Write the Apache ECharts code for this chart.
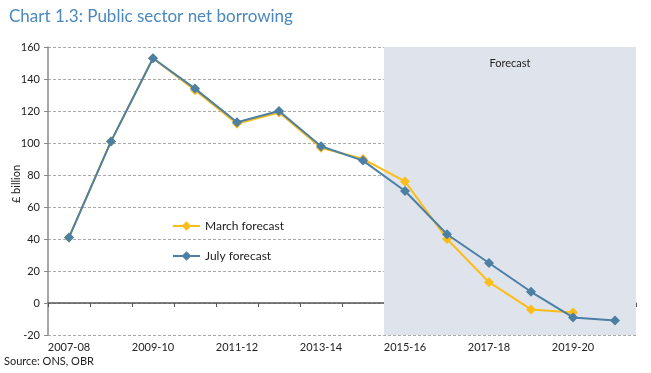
<!DOCTYPE html>
<html>
<head>
<meta charset="utf-8">
<script src="https://cdn.jsdelivr.net/npm/echarts@6/dist/echarts.min.js"></script>
<style>
html,body{margin:0;padding:0;background:#fff;}
#chart{width:651px;height:373px;}
</style>
</head>
<body>
<div id="chart"></div>
<script>
const categories = ['2007-08','2008-09','2009-10','2010-11','2011-12','2012-13','2013-14','2014-15','2015-16','2016-17','2017-18','2018-19','2019-20','2020-21'];
const marchForecast = [41, 101, 153, 133, 112, 119, 97, 90, 76, 40, 13, -4, -6, null];
const julyForecast = [41, 101, 153, 134, 113, 120, 98, 89, 70, 43, 25, 7, -9, -11];
const forecastStart = '2015-16';
const yTicks = { min: -20, max: 160, interval: 20 };

const FONT = 'Lato, "DejaVu Sans", sans-serif';
const chart = echarts.init(document.getElementById('chart'));
const startIdx = categories.indexOf(forecastStart);

chart.setOption({
  animation: false,
  textStyle: { fontFamily: FONT },
  title: {
    text: 'Chart 1.3: Public sector net borrowing',
    left: 4, top: 3,
    textStyle: { fontFamily: FONT, fontSize: 17, fontWeight: 'normal', color: '#4a88bd' }
  },
  graphic: [
    {
      type: 'text', left: 4, top: 356,
      style: { text: 'Source: ONS, OBR', font: '11px ' + FONT, fill: '#222' }
    },
    {
      type: 'text', x: 16, y: 184, rotation: Math.PI / 2,
      style: { text: '£ billion', font: '11px ' + FONT, fill: '#222', align: 'center', verticalAlign: 'middle' }
    }
  ],
  grid: { left: 48, right: 15, top: 47, bottom: 38, containLabel: false, outerBoundsMode: 'none' },
  legend: {
    orient: 'vertical', left: 167, top: 215, itemGap: 18,
    itemWidth: 27, itemHeight: 12,
    textStyle: { fontFamily: FONT, fontSize: 12, color: '#222' },
    data: ['March forecast', 'July forecast']
  },
  xAxis: [
    {
      type: 'category', data: categories, boundaryGap: true,
      axisLine: { onZero: true, lineStyle: { color: '#555', width: 1.5 } },
      axisTick: { show: true, alignWithLabel: false, interval: 0, length: 4, lineStyle: { color: '#555' } },
      axisLabel: { show: false }
    },
    {
      type: 'category', data: categories, boundaryGap: true, position: 'bottom',
      axisLine: { show: false, onZero: false }, axisTick: { show: false },
      axisLabel: { interval: 1, fontFamily: FONT, fontSize: 11, color: '#222', margin: 7 }
    },
    {
      type: 'value', min: 0, max: categories.length, show: false
    }
  ],
  yAxis: {
    type: 'value', min: yTicks.min, max: yTicks.max, interval: yTicks.interval,
    axisLine: { show: true, lineStyle: { color: '#888', width: 1.5 } },
    axisTick: { show: true, length: 4, lineStyle: { color: '#888' } },
    axisLabel: { fontFamily: FONT, fontSize: 11, color: '#222', margin: 8 },
    splitLine: { lineStyle: { color: '#aaa', type: [3, 2], width: 1 } }
  },
  series: [
    {
      name: 'forecastArea', type: 'line', xAxisIndex: 2, data: [],
      silent: true, z: 0,
      markArea: {
        silent: true,
        itemStyle: { color: '#dfe4ec' },
        label: { show: true, position: 'insideTop', distance: 11, color: '#222', fontFamily: FONT, fontSize: 11 },
        data: [[{ name: 'Forecast', xAxis: startIdx }, { xAxis: categories.length }]]
      }
    },
    {
      name: 'March forecast', type: 'line', data: marchForecast, xAxisIndex: 0,
      symbol: 'diamond', symbolSize: 10, z: 3,
      lineStyle: { color: '#fbbd1a', width: 2 },
      itemStyle: { color: '#fbbd1a' }
    },
    {
      name: 'July forecast', type: 'line', data: julyForecast, xAxisIndex: 0,
      symbol: 'diamond', symbolSize: 10, z: 4,
      lineStyle: { color: '#4c7fa4', width: 2 },
      itemStyle: { color: '#4c7fa4' }
    }
  ]
});
</script>
</body>
</html>
